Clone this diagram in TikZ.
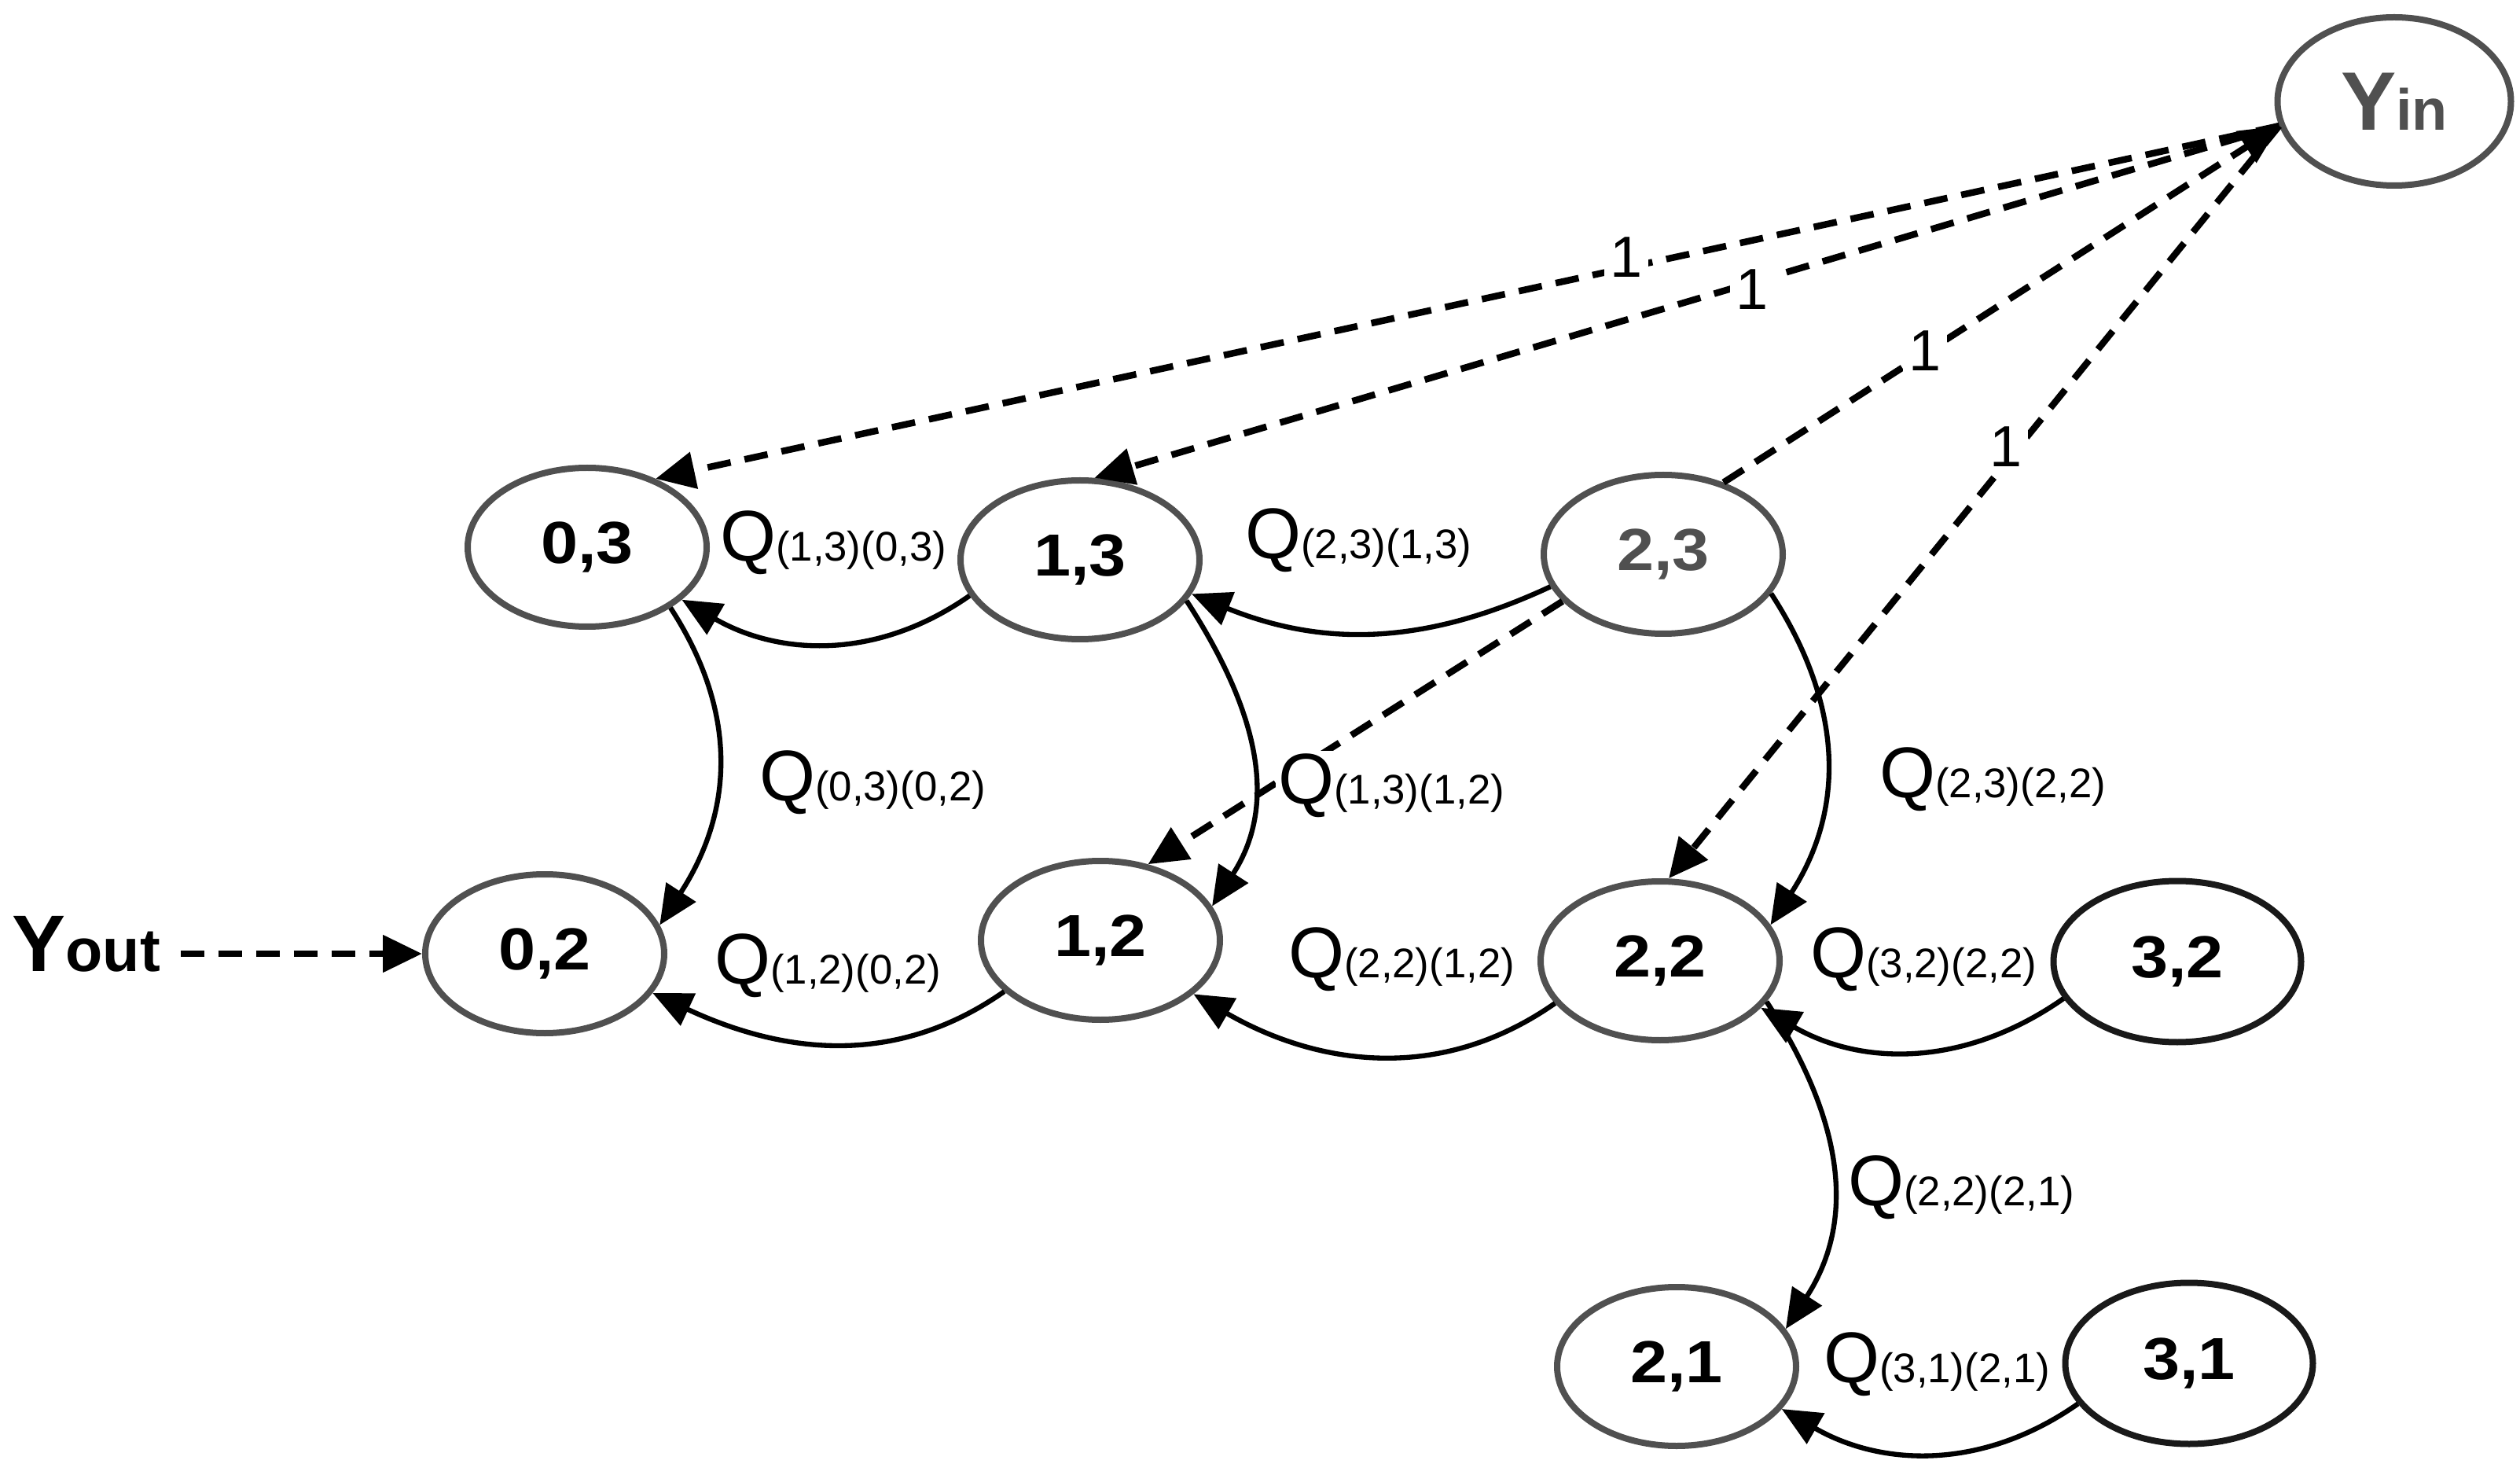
\documentclass[tikz,border=0pt]{standalone}
\usepackage{fontspec}
\usepackage{graphicx}
\setmainfont{Liberation Sans}
\usetikzlibrary{arrows.meta,shapes.geometric}
\definecolor{ngray}{HTML}{505050}
\newcommand{\qlab}[1]{{\fontsize{26}{30}\selectfont Q}{\fontsize{15}{18}\selectfont #1}}
\newcommand{\wide}[1]{\scalebox{1.12}[1]{#1}}
\begin{document}
\begin{tikzpicture}[
  state/.style={ellipse, draw=ngray, line width=0.08cm, minimum width=3.04cm, minimum height=2.02cm, inner sep=0pt, font=\fontsize{21.5}{25}\selectfont\bfseries},
  blackstate/.style={state, draw=black!90, minimum width=3.15cm, minimum height=2.05cm},
  qarrow/.style={line width=1.8pt, -{Triangle[length=0.5cm,width=0.44cm]}},
  vbend/.style={out=-57,in=57,looseness=1.05},
  hbend/.style={out=215,in=-30},
  darrow/.style={line width=2.4pt, dash pattern=on 0.3cm off 0.18cm, -{Triangle[length=0.5cm,width=0.46cm]}},
  qlabel/.style={anchor=base, inner sep=1pt, fill=white},
  onelabel/.style={fill=white, inner sep=2pt, font=\fontsize{21}{24}\selectfont},
]
\useasboundingbox (0,0) rectangle (32.06,18.75);

% states
\node[state, minimum width=2.97cm, minimum height=2.14cm] (Yin) at (30.46,17.46)
  {\color{ngray}{\fontsize{30}{34}\selectfont Y}{\fontsize{21}{24}\selectfont in}};
\node[state] (n03) at (7.47,11.79) {\wide{0,3}};
\node[state] (n13) at (13.74,11.63) {\wide{1,3}};
\node[state, text=ngray] (n23) at (21.16,11.70) {\wide{2,3}};
\node[state] (n02) at (6.93,6.62) {\wide{0,2}};
\node[state] (n12) at (14.00,6.79) {\wide{1,2}};
\node[state] (n22) at (21.12,6.53) {\wide{2,2}};
\node[blackstate] (n32) at (27.70,6.52) {\wide{3,2}};
\node[state] (n21) at (21.33,1.37) {\wide{2,1}};
\node[blackstate] (n31) at (27.85,1.41) {\wide{3,1}};
\node[anchor=base west, inner sep=0pt, font=\bfseries] (yout) at (0.15,6.40)
  {{\fontsize{29}{32}\selectfont Y}{\fontsize{22}{24}\selectfont out}};

% dashed connectors
\draw[darrow] (Yin.192) -- (n03.45);
\draw[darrow] (Yin.192) -- (n13.80);
\draw[darrow] (n23.50) -- (Yin.192);
\draw[darrow] (Yin.192) -- (n22.84);
\draw[darrow] (n23.205) -- (n12.58);
\draw[darrow] ([xshift=0.25cm]yout.east |- n02.west) -- (n02.west);

% labels
\node[qlabel] (q1303) at (10.60,11.61) {\qlab{(1,3)(0,3)}};
\node[qlabel] (q2313) at (17.28,11.64) {\qlab{(2,3)(1,3)}};
\node[qlabel] (q0302) at (11.10,8.57) {\qlab{(0,3)(0,2)}};
\node[qlabel] (q1312) at (17.70,8.53) {\qlab{(1,3)(1,2)}};
\node[qlabel] (q2322) at (25.35,8.61) {\qlab{(2,3)(2,2)}};
\node[qlabel] (q1202) at (10.53,6.24) {\qlab{(1,2)(0,2)}};
\node[qlabel] (q2212) at (17.83,6.32) {\qlab{(2,2)(1,2)}};
\node[qlabel] (q3222) at (24.47,6.32) {\qlab{(3,2)(2,2)}};
\node[qlabel] (q2221) at (24.95,3.42) {\qlab{(2,2)(2,1)}};
\node[qlabel] (q3121) at (24.64,1.17) {\qlab{(3,1)(2,1)}};

\node[onelabel] (w1) at (20.69,15.48) {1};
\node[onelabel] (w2) at (22.29,15.07) {1};
\node[onelabel] (w3) at (24.49,14.29) {1};
\node[onelabel] (w4) at (25.52,13.07) {1};

% solid connectors
\draw[qarrow] (n13.198) to[hbend] (n03.-29);
\draw[qarrow] (n23.196) to[out=205,in=-22] (n13.-17);
\draw[qarrow] (n03.-36) to[vbend] (n02.14);
\draw[qarrow] (n13.-21) to[vbend] (n12.17);
\draw[qarrow] (n23.-20) to[vbend] (n22.18);
\draw[qarrow] (n12.208) to[out=215,in=-25] (n02.-20);
\draw[qarrow] (n22.202) to[hbend] (n12.-30);
\draw[qarrow] (n32.198) to[hbend] (n22.-25);
\draw[qarrow] (n22.-21) to[vbend] (n21.19);
\draw[qarrow] (n31.200) to[hbend] (n21.-22);
\end{tikzpicture}
\end{document}
